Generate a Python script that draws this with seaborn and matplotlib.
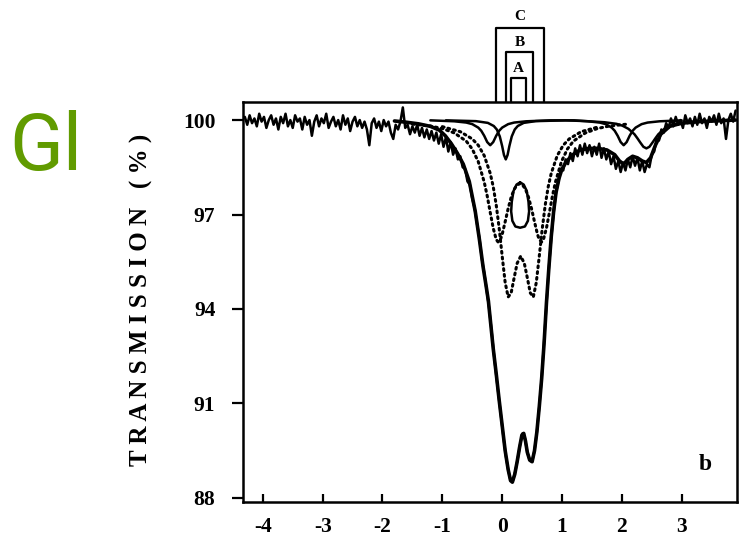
import numpy as np
import pandas as pd
import matplotlib
matplotlib.use("Agg")
import matplotlib.pyplot as plt
import matplotlib.transforms as mtransforms
import seaborn as sns

# measured spectrum, one value per channel (-4.30 ... 3.90 mm/s, 0.04 apart)
transmission = [
    100.10, 99.85, 100.15, 99.90, 100.05, 99.80, 100.20, 99.95, 100.10, 99.75,
    100.00, 100.15, 99.85, 100.05, 99.70, 100.10, 99.90, 100.20, 99.80, 100.00,
    99.75, 100.15, 99.95, 100.05, 99.70, 100.10, 99.85, 100.00, 99.50, 99.95,
    100.15, 99.80, 100.05, 99.90, 100.20, 99.75, 99.95, 100.10, 99.80, 100.00,
    99.70, 100.15, 99.85, 100.05, 99.65, 99.95, 100.10, 99.80, 100.00, 99.75,
    99.95, 99.70, 99.20, 99.90, 100.05, 99.75, 99.95, 99.65, 100.00, 99.80,
    99.95, 99.60, 99.40, 99.85, 99.70, 99.95, 100.40, 99.75, 99.85, 99.55,
    99.80, 99.60, 99.85, 99.50, 99.75, 99.45, 99.70, 99.40, 99.65, 99.35,
    99.60, 99.25, 99.55, 99.15, 99.45, 99.00, 99.30, 98.90, 99.10, 98.75,
    98.85, 98.50, 98.45, 98.05, 97.95, 97.50, 97.20, 96.70, 96.25, 95.60,
    95.15, 94.60, 94.05, 93.35, 92.60, 91.90, 91.25, 90.60, 89.95, 89.35,
    88.90, 88.55, 88.55, 88.85, 89.25, 89.70, 90.05, 89.90, 89.45, 89.20,
    89.15, 89.50, 90.10, 90.90, 91.80, 92.95, 94.15, 95.30, 96.25, 97.05,
    97.70, 98.05, 98.45, 98.40, 98.75, 98.60, 98.95, 98.70, 99.10, 98.85,
    99.20, 98.90, 99.25, 98.95, 99.20, 98.85, 99.15, 98.90, 99.25, 98.80,
    99.10, 98.75, 99.00, 98.60, 98.85, 98.45, 98.70, 98.35, 98.65, 98.40,
    98.75, 98.50, 98.85, 98.55, 98.80, 98.40, 98.70, 98.35, 98.60, 98.50,
    98.90, 99.00, 99.40, 99.35, 99.70, 99.60, 99.90, 99.75, 100.05, 99.80,
    100.10, 99.85, 100.00, 99.75, 100.15, 99.90, 100.05, 99.80, 100.10, 99.85,
    100.20, 99.90, 100.05, 99.75, 100.10, 99.95, 100.15, 99.85, 100.20, 99.90,
    100.05, 99.40, 100.00, 100.20, 99.95, 100.30,
]
velocity = np.linspace(-4.30, 3.90, len(transmission))

# total fit
fit_v = [-1.8, -1.6, -1.4, -1.2, -1.05, -0.95, -0.85, -0.75, -0.65, -0.55,
         -0.45, -0.38, -0.32, -0.27, -0.23, -0.19, -0.15, -0.10, -0.05, 0.0,
         0.05, 0.10, 0.14, 0.17, 0.21, 0.25, 0.29, 0.33, 0.36, 0.39,
         0.42, 0.46, 0.50, 0.54, 0.58, 0.62, 0.66, 0.70, 0.74, 0.78,
         0.82, 0.86, 0.90, 0.95, 1.00, 1.08, 1.18, 1.30, 1.45, 1.60,
         1.75, 1.88, 1.96, 2.03, 2.10, 2.18, 2.26, 2.34, 2.41, 2.48,
         2.56, 2.65, 2.80, 3.00, 3.30, 3.90]
fit_t = [99.97, 99.93, 99.88, 99.8, 99.68, 99.5, 99.25, 98.95, 98.6, 98.05,
         97.1, 96.2, 95.35, 94.75, 94.25, 93.5, 92.75, 91.95, 91.1, 90.3,
         89.5, 88.9, 88.55, 88.5, 88.75, 89.15, 89.6, 90.0, 90.05, 89.8,
         89.45, 89.2, 89.15, 89.5, 90.1, 90.9, 91.8, 92.9, 94.2, 95.3,
         96.3, 97.1, 97.7, 98.15, 98.45, 98.7, 98.9, 99.05, 99.1, 99.1,
         99.05, 98.9, 98.7, 98.6, 98.75, 98.85, 98.8, 98.7, 98.65, 98.8,
         99.2, 99.55, 99.8, 99.9, 99.95, 100.0]

# subspectra (dotted)
sub_a_v = [-1.5, -1.2, -1.0, -0.8, -0.6, -0.5, -0.4, -0.3, -0.25, -0.2,
           -0.15, -0.1, -0.07, -0.03, 0.0, 0.05, 0.1, 0.15, 0.2, 0.25,
           0.295, 0.34, 0.39, 0.44, 0.49, 0.54, 0.59, 0.62, 0.66, 0.69,
           0.74, 0.79, 0.84, 0.89, 0.99, 1.09, 1.19, 1.39, 1.59, 1.79, 2.09]
sub_a_t = [99.87, 99.81, 99.73, 99.59, 99.33, 99.08, 98.68, 98.03, 97.59, 97.07,
           96.57, 96.21, 96.13, 96.20, 96.37, 96.77, 97.19, 97.55, 97.80, 97.94,
           97.98, 97.94, 97.80, 97.55, 97.19, 96.77, 96.37, 96.20, 96.13, 96.21,
           96.57, 97.07, 97.59, 98.03, 98.68, 99.08, 99.33, 99.59, 99.73, 99.81, 99.87]

sub_b_v = [-1.0, -0.7, -0.5, -0.4, -0.3, -0.2, -0.15, -0.1, -0.05, 0.0,
           0.05, 0.10, 0.15, 0.2, 0.25, 0.31, 0.37, 0.42, 0.47, 0.52,
           0.57, 0.62, 0.67, 0.72, 0.77, 0.82, 0.92, 1.02, 1.12, 1.32, 1.62]
sub_b_t = [99.79, 99.63, 99.40, 99.20, 98.87, 98.31, 97.89, 97.31, 96.56, 95.68,
           94.84, 94.38, 94.51, 94.99, 95.45, 95.68, 95.45, 94.99, 94.51, 94.38,
           94.84, 95.68, 96.56, 97.31, 97.89, 98.31, 98.87, 99.20, 99.40, 99.63, 99.79]

# subspectra (solid)
sub_c_v = [-1.2, -0.8, -0.6, -0.5, -0.4, -0.35, -0.3, -0.25, -0.2, -0.15,
           -0.1, -0.05, 0.0, 0.1, 0.2, 0.4, 0.8, 1.2, 1.43, 1.63,
           1.73, 1.83, 1.88, 1.93, 1.98, 2.03, 2.08, 2.13, 2.18, 2.23,
           2.33, 2.43, 2.63, 3.0]
sub_c_t = [99.99, 99.96, 99.92, 99.87, 99.76, 99.66, 99.50, 99.30, 99.20, 99.30,
           99.50, 99.66, 99.76, 99.87, 99.92, 99.96, 99.99, 99.99, 99.96, 99.92,
           99.87, 99.76, 99.66, 99.50, 99.30, 99.20, 99.30, 99.50, 99.66, 99.76,
           99.87, 99.92, 99.96, 99.99]

sub_d_v = [-0.94, -0.44, -0.24, -0.14, -0.09, -0.04, 0.0, 0.03, 0.06, 0.09,
           0.12, 0.16, 0.21, 0.26, 0.36, 0.56, 1.06, 1.41, 1.71, 1.91,
           2.01, 2.11, 2.21, 2.26, 2.31, 2.36, 2.41, 2.46, 2.51, 2.56,
           2.61, 2.71, 2.81, 2.91, 3.11, 3.41]
sub_d_t = [99.99, 99.965, 99.91, 99.81, 99.70, 99.48, 99.17, 98.89, 98.75, 98.89,
           99.17, 99.48, 99.70, 99.81, 99.91, 99.965, 99.99, 99.965, 99.93, 99.88,
           99.82, 99.72, 99.55, 99.42, 99.28, 99.15, 99.10, 99.15, 99.28, 99.42,
           99.55, 99.72, 99.82, 99.88, 99.93, 99.965]

loop_v = [0.30, 0.36, 0.41, 0.44, 0.45, 0.43, 0.38, 0.30, 0.22, 0.17, 0.15, 0.16, 0.19, 0.24, 0.30]
loop_t = [98.02, 97.95, 97.75, 97.4, 97.1, 96.8, 96.62, 96.58, 96.62, 96.8, 97.1, 97.4, 97.75, 97.95, 98.02]

# velocity windows marked above the frame
win_labels = ["A", "B", "C"]
win_left = [0.147, 0.063, -0.104]
win_right = [0.393, 0.52, 0.703]

x_ticks = [-4, -3, -2, -1, 0, 1, 2, 3]
y_ticks = [88, 91, 94, 97, 100]

sns.set_style("ticks")
plt.rcParams["font.family"] = ["Liberation Serif", "DejaVu Serif"]
plt.rcParams["text.color"] = "black"
plt.rcParams["xtick.color"] = "black"
plt.rcParams["ytick.color"] = "black"

fig = plt.figure(figsize=(7.41, 5.39), dpi=100)
ax = fig.add_axes([0.328, 0.0686, 0.6667, 0.742])

sns.lineplot(x=velocity, y=transmission, ax=ax, color="black", lw=1.8,
             sort=False, estimator=None)
dots = dict(color="black", lw=2.2, linestyle=(0, (0.6, 1.3)),
            dash_capstyle="round", sort=False, estimator=None)
sns.lineplot(x=sub_a_v, y=sub_a_t, ax=ax, **dots)
sns.lineplot(x=sub_b_v, y=sub_b_t, ax=ax, **dots)
solid = dict(color="black", lw=1.8, sort=False, estimator=None)
sns.lineplot(x=sub_c_v, y=sub_c_t, ax=ax, **solid)
sns.lineplot(x=sub_d_v, y=sub_d_t, ax=ax, **solid)
sns.lineplot(x=loop_v, y=loop_t, ax=ax, **solid)
sns.lineplot(x=fit_v, y=fit_t, ax=ax, color="black", lw=2.6, sort=False, estimator=None)

ax.set_xlim(-4.33, 3.925)
ax.set_ylim(87.87, 100.57)
ax.set_xticks(x_ticks)
ax.set_yticks(y_ticks)
ax.set_xticklabels([str(t) for t in x_ticks])
ax.set_yticklabels([str(t) for t in y_ticks])
ax.tick_params(axis="x", direction="in", length=6, width=1.6, pad=11, labelsize=15.5,
               colors="black")
ax.tick_params(axis="y", direction="out", length=8, width=1.6, pad=12, labelsize=15.5,
               colors="black")
for lbl in ax.get_xticklabels() + ax.get_yticklabels():
    lbl.set_fontweight("bold")
for sp in ax.spines.values():
    sp.set_linewidth(1.8)
    sp.set_color("black")
ax.set_xlabel("")
ax.set_ylabel("")

# nested window boxes on top of the frame
trans = mtransforms.blended_transform_factory(ax.transData, ax.transAxes)
box_top = [1.060, 1.125, 1.185]
lab_y = [1.083, 1.150, 1.213]
for lab, l, r, h, ly in zip(win_labels, win_left, win_right, box_top, lab_y):
    ax.plot([l, l, r, r], [1.0, h, h, 1.0], transform=trans, clip_on=False,
            color="black", lw=1.6)
    ax.text((l + r) / 2, ly, lab, transform=trans, ha="center", va="center",
            fontsize=11, fontweight="bold")

ax.text(0.935, 0.093, "b", transform=ax.transAxes, ha="center", va="center",
        fontsize=17, fontweight="bold")

fig.text(141 / 741, 1 - 300 / 539, "T R A N S M I S S I O N   ( % )", rotation=90,
         ha="center", va="center", fontsize=18, fontweight="bold")
fig.text(0.012, 1 - 170 / 539, "Gl", color="#619b00", fontsize=57,
         family=["Liberation Sans Narrow", "Roboto"], va="baseline", ha="left")

fig.savefig("out.png", dpi=100)
